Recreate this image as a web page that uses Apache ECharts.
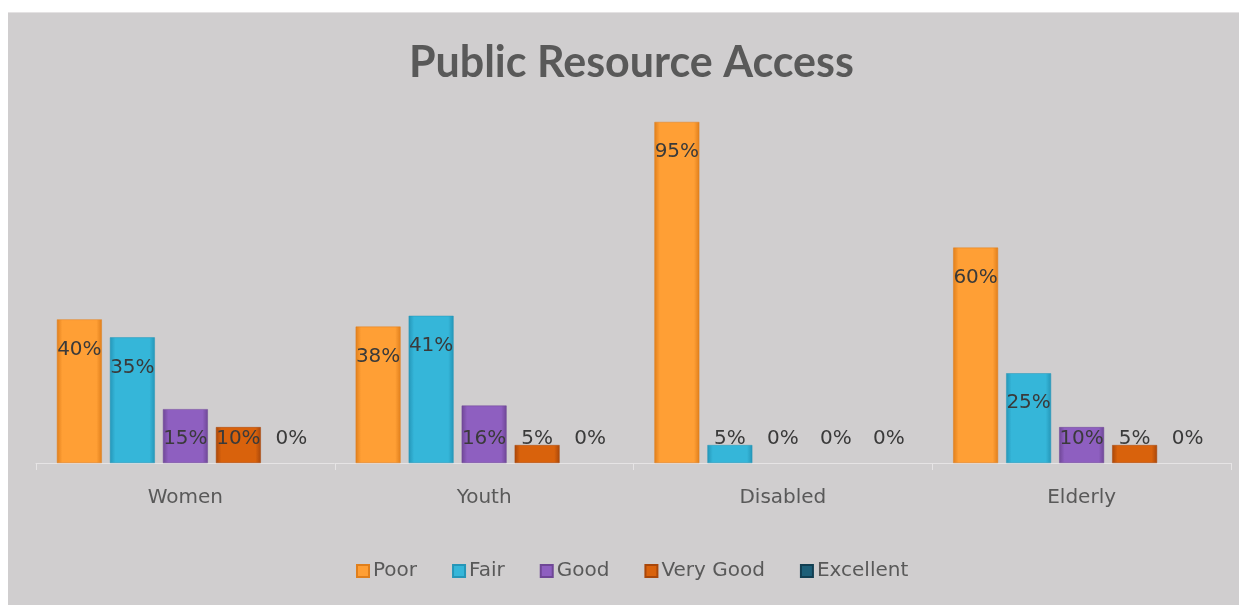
<!DOCTYPE html>
<html>
<head>
<meta charset="utf-8">
<script src="https://cdn.jsdelivr.net/npm/echarts@6/dist/echarts.min.js"></script>
<style>
html,body{margin:0;padding:0;background:#ffffff;width:1239px;height:605px;overflow:hidden;}
#chart{position:absolute;left:8px;top:12px;width:1231px;height:593px;background:#d0cecf;border-top:1px solid #e4e2e3;box-sizing:border-box;}
</style>
</head>
<body>
<div id="chart"></div>
<script>
const categories = ['Women', 'Youth', 'Disabled', 'Elderly'];
const seriesNames = ['Poor', 'Fair', 'Good', 'Very Good', 'Excellent'];
const poor = [40, 38, 95, 60];
const fair = [35, 41, 5, 25];
const good = [15, 16, 0, 10];
const veryGood = [10, 5, 0, 5];
const excellent = [0, 0, 0, 0];

const seriesValues = [poor, fair, good, veryGood, excellent];
const colors = [
  ['#e07f1c', '#ff9f35', '#ffb85c'],
  ['#2596b8', '#35b6d9', '#6ad3ee'],
  ['#6f4796', '#8e5fc0', '#b28bdc'],
  ['#a9470a', '#d9620c', '#f0802a'],
  ['#123f52', '#1d5f78', '#3a86a3']
];

const chart = echarts.init(document.getElementById('chart'), null, {renderer: 'canvas'});

function mkColor(c) {
  return new echarts.graphic.LinearGradient(0, 0, 1, 0, [
    {offset: 0, color: c[0]},
    {offset: 0.12, color: c[1]},
    {offset: 0.88, color: c[1]},
    {offset: 1, color: c[0]}
  ]);
}

const series = seriesNames.map((name, i) => ({
  name: name,
  type: 'bar',
  barGap: '18%',
  barCategoryGap: '14%',
  itemStyle: {color: mkColor(colors[i]), borderColor: colors[i][0], borderWidth: 0.5},
  data: seriesValues[i].map(v => ({
    value: v,
    itemStyle: v === 0 ? {borderWidth: 0, color: 'rgba(0,0,0,0)', borderColor: 'rgba(0,0,0,0)'} : undefined,
    label: v >= 20
      ? {position: 'insideTop', distance: 20}
      : {position: 'insideBottom', distance: 14}
  })),
  label: {
    show: true,
    formatter: p => p.value + '%',
    color: '#3a3a3a',
    fontFamily: 'DejaVu Sans',
    fontSize: 20
  }
}));

chart.setOption({
  backgroundColor: 'transparent',
  animation: false,
  color: colors.map(c => c[1]),
  title: {
    text: 'Public Resource Access',
    left: 396,
    top: 24,
    textStyle: {fontFamily: 'Lato', fontWeight: 'bold', fontSize: 43, color: '#595959'}
  },
  legend: {
    bottom: 19,
    left: 343,
    itemWidth: 12,
    itemHeight: 12,
    itemGap: 35,
    icon: 'rect',
    textStyle: {fontFamily: 'DejaVu Sans', fontSize: 20, color: '#595959', padding: [0, 0, 0, -1]},
    data: seriesNames
  },
  grid: {left: 28, right: 8, top: 91, bottom: 142, containLabel: false},
  xAxis: {
    type: 'category',
    data: categories,
    axisLine: {lineStyle: {color: '#e6e4e5', width: 1}},
    axisTick: {show: true, length: 7, lineStyle: {color: '#e6e4e5'}},
    axisLabel: {margin: 25, fontFamily: 'DejaVu Sans', fontSize: 20, color: '#595959'}
  },
  yAxis: {
    type: 'value',
    min: 0,
    max: 100,
    show: false,
    splitLine: {show: false}
  },
  series: series
});
</script>
</body>
</html>
